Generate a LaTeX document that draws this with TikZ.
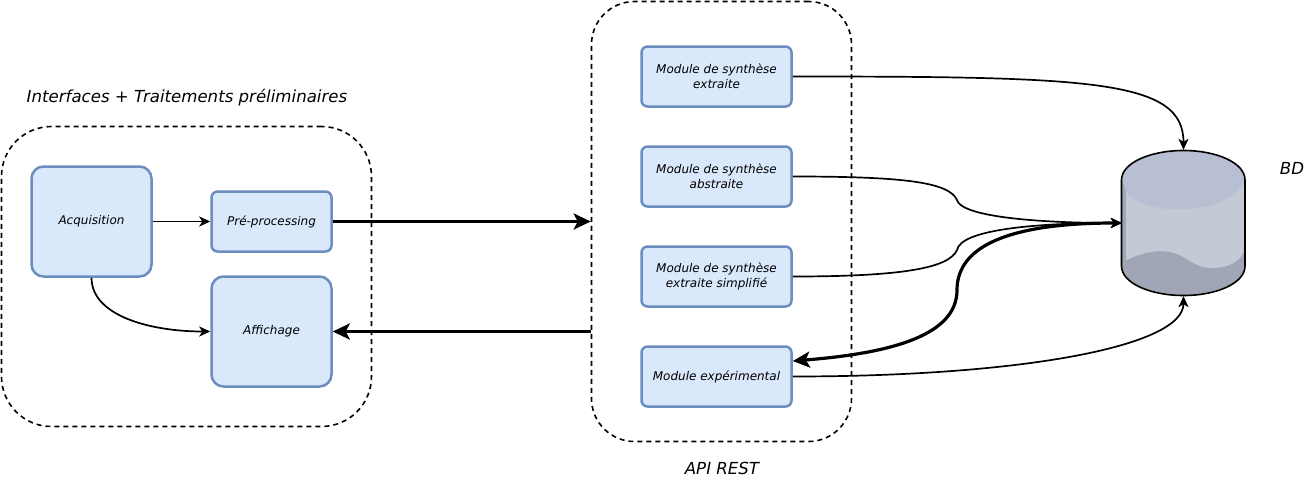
\documentclass[tikz,border=0pt]{standalone}
\usepackage{fontspec}
\setmainfont{DejaVu Sans}
\usetikzlibrary{arrows.meta}
\definecolor{boxfill}{HTML}{DAE8FC}
\definecolor{boxline}{HTML}{6C8EBF}
\definecolor{cyltop}{HTML}{B8BFD2}
\definecolor{cyllight}{HTML}{C4C9D6}
\definecolor{cyldark}{HTML}{A0A6B6}
\tikzset{
  x=1pt,y=-1pt,
  modbox/.style={draw=boxline,fill=boxfill,line width=2.5pt,rounded corners=6pt,minimum width=150pt,minimum height=60pt,inner sep=0pt,align=center,font=\fontsize{12}{15}\selectfont\itshape},
  leftbox/.style={modbox,minimum width=120pt},
  bigbox/.style={leftbox,minimum height=110pt,rounded corners=12pt},
  group/.style={draw=black,dash pattern=on 5pt off 4pt,line width=1.6pt,rounded corners=#1,inner sep=0pt},
  lab/.style={font=\fontsize{16.6}{20}\selectfont\itshape,inner sep=0pt},
  thin arrow/.style={line width=1.7pt,-{Stealth[length=11pt,width=10pt,inset=3pt]}},
  thick arrow/.style={line width=3.4pt,-{Stealth[length=17pt,width=16pt,inset=4pt]}},
}
\begin{document}
\begin{tikzpicture}
\useasboundingbox (0,0) rectangle (1312,477);
% groups
\node[group=50pt,minimum width=370pt,minimum height=300pt] (g1) at (186.5,276.5) {};
\node[group=43pt,minimum width=260pt,minimum height=440pt] (g2) at (721.5,221.5) {};
% cylinder
\node[minimum width=123pt,minimum height=146pt,inner sep=0pt] (bd) at (1183.5,223) {};
\fill[cyldark] (1122,180) .. controls (1122,163) and (1150,150.5) .. (1183.5,150.5) .. controls (1217,150.5) and (1245,163) .. (1245,180) -- (1245,266) .. controls (1245,283) and (1217,295.5) .. (1183.5,295.5) .. controls (1150,295.5) and (1122,283) .. (1122,266) -- cycle;
\fill[cyllight] (1126,192) -- (1245,180) -- (1245,250) .. controls (1240,262) and (1228,268) .. (1212,268) .. controls (1190,268) and (1186,251) .. (1160,251) .. controls (1148,251) and (1136,256) .. (1126,260) -- cycle;
\fill[cyltop] (1122,180) .. controls (1122,163) and (1150,150.5) .. (1183.5,150.5) .. controls (1217,150.5) and (1245,163) .. (1245,180) .. controls (1238,198) and (1210,209.5) .. (1180,209.5) .. controls (1155,209.5) and (1135,203) .. (1126,192) -- cycle;
\draw[line width=1.6pt,black] (1121.5,180) .. controls (1121.5,163) and (1150,150.5) .. (1183.5,150.5) .. controls (1217,150.5) and (1245,163) .. (1245,180) -- (1245,266) .. controls (1245,283) and (1217,295.5) .. (1183.5,295.5) .. controls (1150,295.5) and (1121.5,283) .. (1121.5,266) -- cycle;
% boxes
\node[bigbox] (acq) at (91.5,221.5) {Acquisition};
\node[leftbox] (pre) at (271.5,221.5) {Pré-processing};
\node[bigbox] (aff) at (271.5,331.5) {Affichage};
\node[modbox] (m1) at (716.5,76.5) {Module de synthèse\\extraite};
\node[modbox] (m2) at (716.5,176.5) {Module de synthèse\\abstraite};
\node[modbox] (m3) at (716.5,276.5) {Module de synthèse\\extraite simplifié};
\node[modbox] (m4) at (716.5,376.5) {Module expérimental};
% labels
\node[lab] (t1) at (187,98) {Interfaces + Traitements préliminaires};
\node[lab] (t2) at (722,468) {API REST};
\node[lab] (t3) at (1292,168) {BD};
% connectors
\draw[thin arrow] (acq.east |- pre.west) -- (pre.west);
\draw[thin arrow] (acq.south) .. controls +(0,38) and +(-60,0) .. (aff.west);
\draw[thick arrow] (pre.east) -- (g2.west |- pre.east);
\draw[thick arrow] (g2.west |- aff.east) -- (aff.east);
\draw[thin arrow] (m1.east) .. controls +(300,0) and +(0,-70) .. (bd.north);
\draw[thin arrow] (m2.east) .. controls +(110,0) and +(-8,-18) .. (957,200) .. controls +(4,16) and +(-90,0) .. (bd.west);
\draw[thin arrow] (m3.east) .. controls +(110,0) and +(-8,18) .. (957,250) .. controls +(4,-20) and +(-90,0) .. (bd.west);
\draw[line width=3.2pt,{Stealth[length=17pt,width=16pt,inset=4pt]}-{Stealth[length=11pt,width=10pt,inset=3pt]}] (m4.east |- 0,361) .. controls +(100,-8) and +(0,45) .. (957,290) .. controls +(0,-45) and +(-110,0) .. (bd.west);
\draw[thin arrow] (m4.east) .. controls +(230,0) and +(0,50) .. (bd.south);
\end{tikzpicture}
\end{document}
